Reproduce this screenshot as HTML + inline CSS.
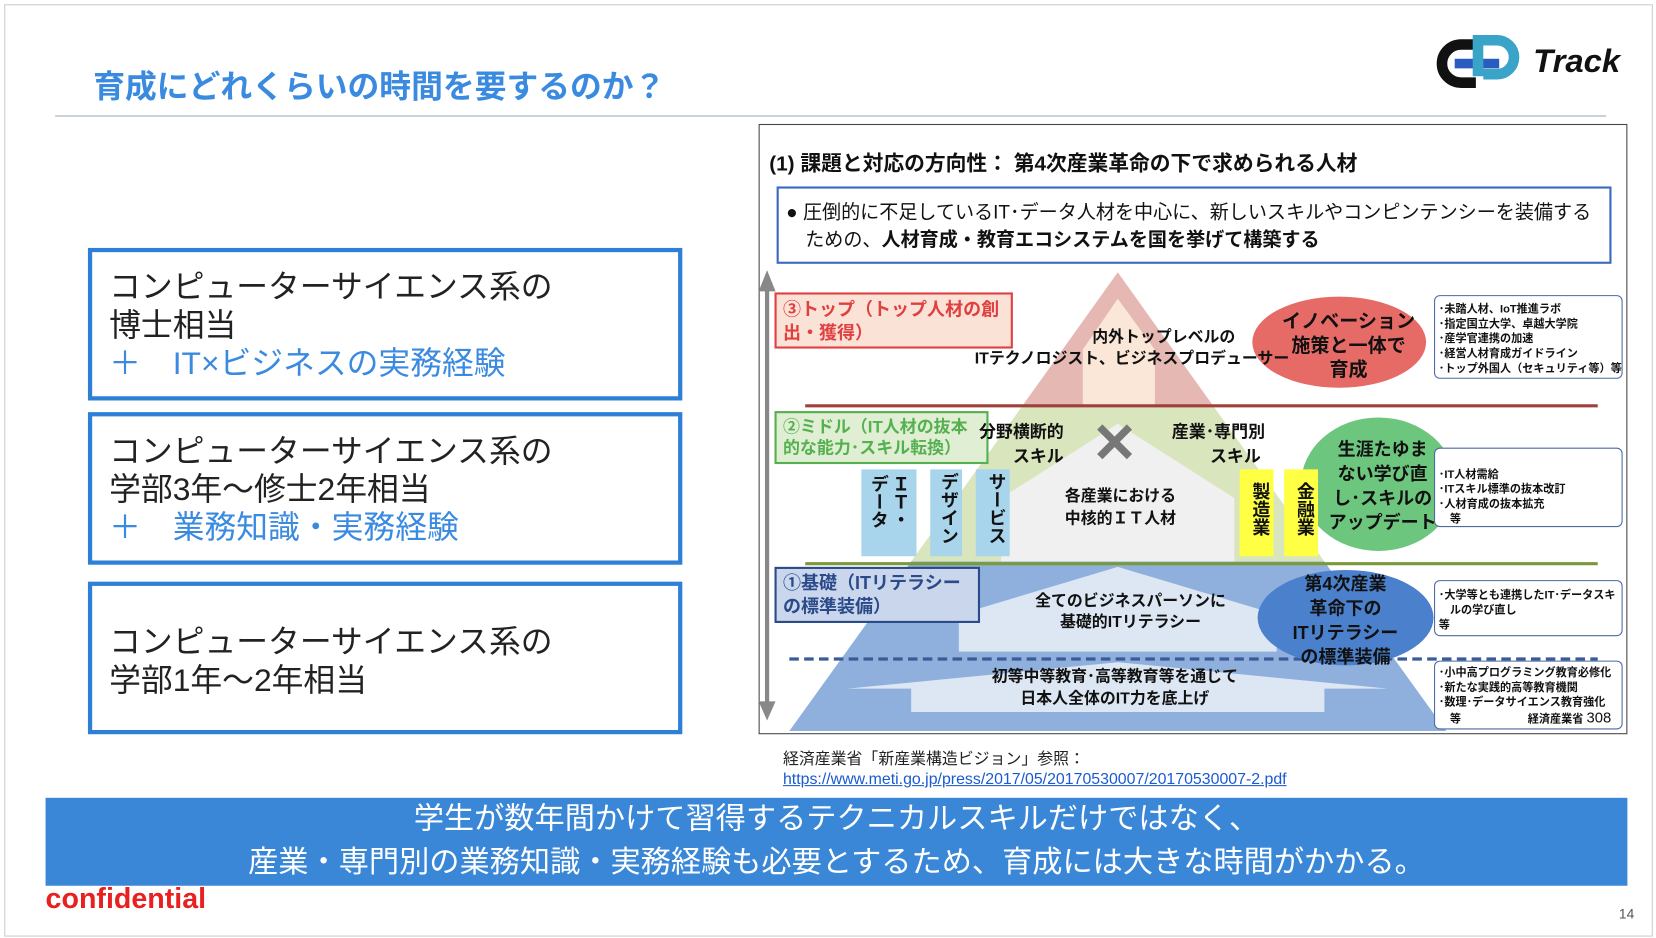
<!DOCTYPE html>
<html><head><meta charset="utf-8"><style>
body{margin:0;width:1656px;height:938px;background:#fff;position:relative;overflow:hidden;font-family:"Liberation Sans","Noto Sans CJK JP",sans-serif}
#w{position:absolute;left:0;top:0;width:1563px;height:885px;transform:scale(1.0595);transform-origin:0 0}
.a{position:absolute;white-space:nowrap}
.box{position:absolute;border:4px solid #2e7fd6;background:#fff;box-sizing:border-box;padding:16px 0 0 16px;font-size:30px;line-height:36px;color:#222}
.box .b{color:#3a8ae0}
.d{font-weight:bold;color:#111}
</style></head><body><div id="w">
<div class="a" style="left:4px;top:4px;width:1554px;height:878px;border:1px solid #ccc"></div>
<div class="a" style="left:88px;top:57px;font-size:30px;color:#3a8ae0;font-weight:bold">育成にどれくらいの時間を要するのか？</div>
<div class="a" style="left:52px;top:109px;width:1464px;height:1px;background:#9ab"></div>
<svg class="a" style="left:1355px;top:32px" width="85" height="58" viewBox="0 0 85 58">
<path d="M38 10 H24 A18 18 0 0 0 24 46 H38" stroke="#111" stroke-width="10" fill="none"/>
<path d="M18 28 H60" stroke="#2a5cc0" stroke-width="9"/>
<path d="M40 40 V6 H58 A16 16 0 0 1 58 38 H45" stroke="#3aa4c8" stroke-width="10" fill="none"/>
</svg>
<div class="a" style="left:1447px;top:40px;font-size:31px;font-weight:bold;font-style:italic;color:#111">Track</div>

<div class="box" style="left:83px;top:234px;width:561px;height:144px">コンピューターサイエンス系の<br>博士相当<br><span class="b">＋　IT×ビジネスの実務経験</span></div>
<div class="box" style="left:83px;top:389px;width:561px;height:144px">コンピューターサイエンス系の<br>学部3年〜修士2年相当<br><span class="b">＋　業務知識・実務経験</span></div>
<div class="box" style="left:83px;top:549px;width:561px;height:144px;padding-top:36px">コンピューターサイエンス系の<br>学部1年〜2年相当</div>

<div class="a" style="left:716px;top:117px;width:820px;height:576px;border:1.5px solid #444;box-sizing:border-box"></div>
<svg class="a" style="left:0;top:0" width="1563" height="885">
<polygon points="1055,257 965,383 1145,383" fill="#e6b8b4"/>
<polygon points="1055,282 1022,330 1022,383 1090,383 1090,330" fill="#fbe7d8"/>
<polygon points="965,383 1145,383 1250,530 860,530" fill="#d9e5bd"/>
<polygon points="1055,400 945,470 945,530 1165,530 1165,470" fill="#f0f0f0"/>
<polygon points="860,530 1250,530 1365,690 745,690" fill="#8fb0dd"/>
<polygon points="1055,535 905,580 905,615 1205,615 1205,580" fill="#dde6f3"/>
<polygon points="1055,625 800,650 860,650 860,672 1250,672 1250,650 1310,650" fill="#dde6f3"/>
<line x1="724" y1="268" x2="724" y2="668" stroke="#888" stroke-width="4"/>
<polygon points="716,275 732,275 724,255" fill="#888"/><polygon points="716,662 732,662 724,680" fill="#888"/>
<line x1="760" y1="383" x2="1508" y2="383" stroke="#a0403a" stroke-width="3"/>
<line x1="760" y1="532" x2="1508" y2="532" stroke="#7a9a3a" stroke-width="3"/>
<line x1="745" y1="622" x2="1508" y2="622" stroke="#3a5a9a" stroke-width="3" stroke-dasharray="9,5"/>
<ellipse cx="1264" cy="323" rx="82" ry="43" fill="#e66a66"/>
<ellipse cx="1301" cy="457" rx="73" ry="63" fill="#5cc070" opacity=".9"/>
<ellipse cx="1270" cy="583" rx="83" ry="45" fill="#4a80cc"/>
<path d="M1038 403 L1066 431 M1066 403 L1038 431" stroke="#777" stroke-width="7"/>
<rect x="813" y="443" width="52" height="82" fill="#a8d4ec"/><rect x="878" y="443" width="30" height="82" fill="#a8d4ec"/>
<rect x="921" y="443" width="32" height="82" fill="#a8d4ec"/>
<rect x="1170" y="443" width="32" height="82" fill="#ffff44"/><rect x="1212" y="443" width="32" height="82" fill="#ffff44"/>
<rect x="732" y="277" width="223" height="51" fill="#fbe2d6" stroke="#e04040" stroke-width="2"/>
<rect x="732" y="389" width="200" height="48" fill="#e0efd4" stroke="#55b050" stroke-width="2"/>
<rect x="732" y="536" width="192" height="51" fill="#c9d6ec" stroke="#2a4a8a" stroke-width="2"/>
<rect x="734" y="177" width="786" height="71" fill="#fff" stroke="#3a6ac0" stroke-width="2"/>
<rect x="1354" y="279" width="177" height="78" rx="5" fill="#fff" stroke="#4a6aa0"/>
<rect x="1354" y="423" width="177" height="74" rx="5" fill="#fff" stroke="#4a6aa0"/>
<rect x="1354" y="548" width="177" height="52" rx="5" fill="#fff" stroke="#4a6aa0"/>
<rect x="1354" y="624" width="177" height="64" rx="5" fill="#fff" stroke="#4a6aa0"/>
</svg>
<div class="a d" style="left:726px;top:138px;font-size:19.6px">(1)  課題と対応の方向性： 第4次産業革命の下で求められる人材</div>
<div class="a" style="left:742px;top:187px;font-size:18px;line-height:26px;color:#111">● 圧倒的に不足しているIT･データ人材を中心に、新しいスキルやコンピンテンシーを装備する<br>　ための、<b>人材育成・教育エコシステムを国を挙げて構築する</b></div>
<div class="a d" style="left:739px;top:282px;font-size:17px;color:#e04040;line-height:22px">③トップ（トップ人材の創<br>出・獲得）</div>
<div class="a d" style="left:739px;top:394px;font-size:16px;color:#55b050;line-height:20px">②ミドル（IT人材の抜本<br>的な能力･スキル転換）</div>
<div class="a d" style="left:739px;top:540px;font-size:17px;color:#2a4a8a;line-height:22px">①基礎（ITリテラシー<br>の標準装備）</div>
<div class="a d" style="left:920px;top:309px;font-size:15px;text-align:center;line-height:20px">　　　　内外トップレベルの<br>ITテクノロジスト、ビジネスプロデューサー</div>
<div class="a d" style="left:1210px;top:292px;font-size:18px;text-align:center;line-height:23px">イノベーション<br>施策と一体で<br>育成</div>
<div class="a d" style="left:924px;top:397px;font-size:16px;text-align:center;line-height:23px">分野横断的<br>　　スキル</div>
<div class="a d" style="left:1106px;top:397px;font-size:16px;text-align:center;line-height:23px">産業･専門別<br>　　スキル</div>
<div class="a d" style="left:1005px;top:458px;font-size:15px;text-align:center;line-height:21px">各産業における<br>中核的ＩＴ人材</div>
<div class="a d" style="left:1254px;top:413px;font-size:17px;text-align:center;line-height:23px">生涯たゆま<br>ない学び直<br>し･スキルの<br>アップデート</div>
<div class="a d" style="left:818px;top:448px;font-size:17px;writing-mode:vertical-rl;line-height:20px">ＩＴ・<br>データ</div>
<div class="a d" style="left:882px;top:446px;font-size:17px;writing-mode:vertical-rl">デザイン</div>
<div class="a d" style="left:927px;top:446px;font-size:17px;writing-mode:vertical-rl">サービス</div>
<div class="a d" style="left:1176px;top:455px;font-size:17px;writing-mode:vertical-rl">製造業</div>
<div class="a d" style="left:1218px;top:455px;font-size:17px;writing-mode:vertical-rl">金融業</div>
<div class="a d" style="left:977px;top:558px;font-size:15px;text-align:center;line-height:20px">全てのビジネスパーソンに<br>基礎的ITリテラシー</div>
<div class="a d" style="left:1220px;top:540px;font-size:17px;text-align:center;line-height:23px">第4次産業<br>革命下の<br>ITリテラシー<br>の標準装備</div>
<div class="a d" style="left:936px;top:628px;font-size:15px;text-align:center;line-height:21px">初等中等教育･高等教育等を通じて<br>日本人全体のIT力を底上げ</div>
<div class="a d" style="left:1358px;top:285px;font-size:10.5px;line-height:14px">･未踏人材、IoT推進ラボ<br>･指定国立大学、卓越大学院<br>･産学官連携の加速<br>･経営人材育成ガイドライン<br>･トップ外国人（セキュリティ等）等</div>
<div class="a d" style="left:1358px;top:441px;font-size:10.5px;line-height:14px">･IT人材需給<br>･ITスキル標準の抜本改訂<br>･人材育成の抜本拡充<br>　等</div>
<div class="a d" style="left:1358px;top:555px;font-size:10.5px;line-height:14px">･大学等とも連携したIT･データスキ<br>　ルの学び直し<br>等</div>
<div class="a d" style="left:1358px;top:628px;font-size:10.5px;line-height:14px">･小中高プログラミング教育必修化<br>･新たな実践的高等教育機関<br>･数理･データサイエンス教育強化<br>　等　　　　　　経済産業省 <span style="font-size:14px;font-weight:normal">308</span></div>

<div class="a" style="left:739px;top:705px;font-size:15px;color:#222">経済産業省「新産業構造ビジョン」参照：</div>
<div class="a" style="left:739px;top:727px;font-size:15px;color:#1a5ad0;text-decoration:underline">https://www.meti.go.jp/press/2017/05/20170530007/20170530007-2.pdf</div>
<div class="a" style="left:43px;top:753px;width:1493px;height:83px;background:#3a87d8;color:#fff;font-size:28.5px;line-height:41px;text-align:center">学生が数年間かけて習得するテクニカルスキルだけではなく、<br>産業・専門別の業務知識・実務経験も必要とするため、育成には大きな時間がかかる。</div>
<div class="a" style="left:43px;top:833px;font-size:27px;color:#e82020;font-weight:bold">confidential</div>
<div class="a" style="left:1528px;top:855px;font-size:13px;color:#555">14</div>
</div></body></html>
